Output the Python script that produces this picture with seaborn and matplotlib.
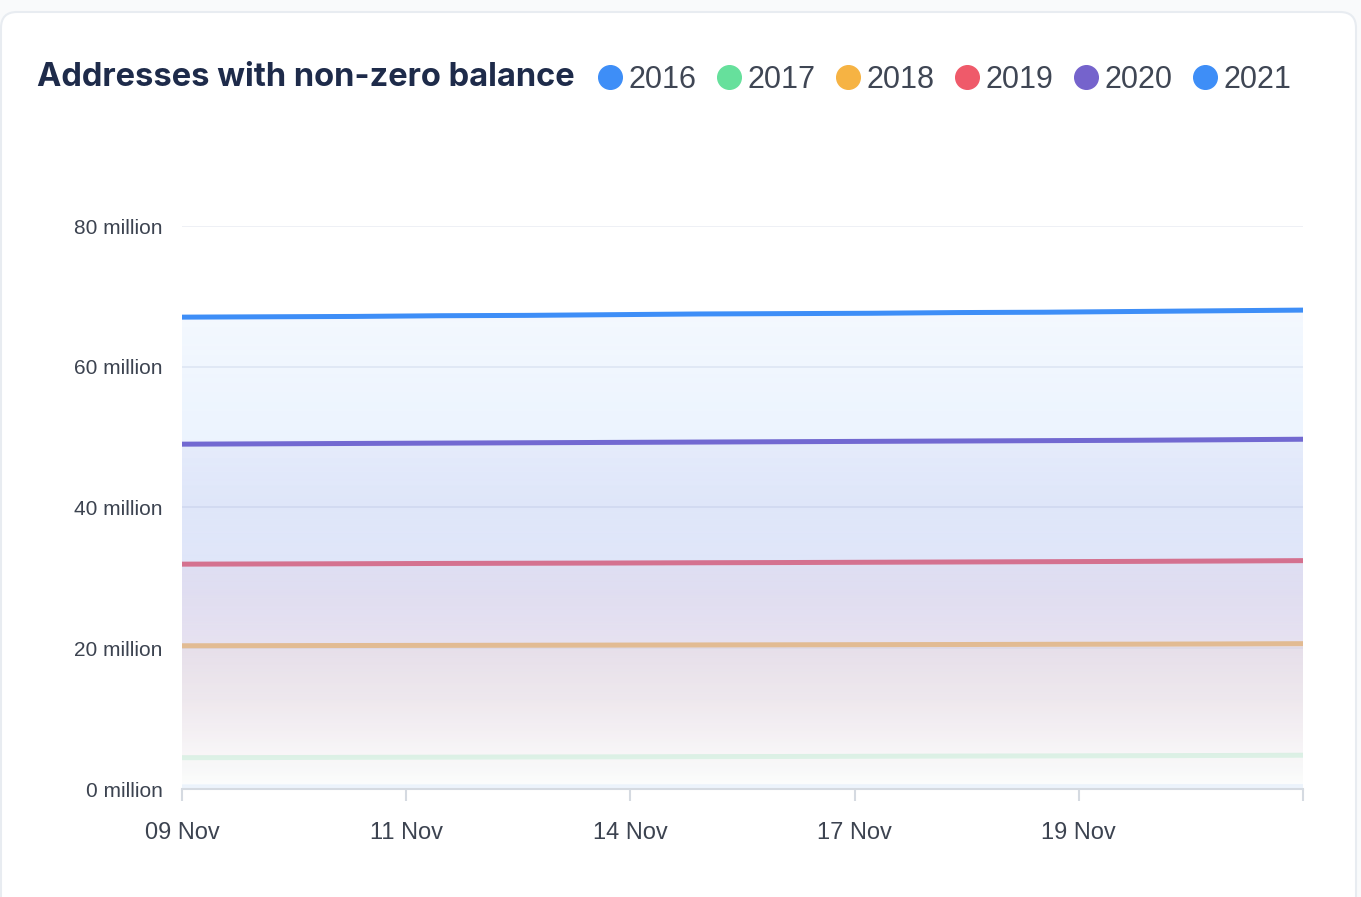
import matplotlib
matplotlib.use("Agg")
import matplotlib.pyplot as plt
from matplotlib.patches import FancyBboxPatch
from matplotlib.lines import Line2D
from matplotlib.colors import to_rgb
import seaborn as sns
import pandas as pd
import numpy as np

# data (million addresses), daily values 09 Nov .. 22 Nov
days = list(range(14))
years = ["2016", "2017", "2018", "2019", "2020", "2021"]
colors = ["#3E8EF7", "#66E09C", "#F6B343", "#EF5A6A", "#7563CC", "#3E8EF7"]

v2016 = [0.30, 0.30, 0.30, 0.31, 0.31, 0.31, 0.32, 0.32, 0.32, 0.33, 0.33, 0.33, 0.34, 0.34]
v2017 = [4.45, 4.47, 4.50, 4.52, 4.55, 4.57, 4.60, 4.62, 4.65, 4.68, 4.70, 4.73, 4.76, 4.80]
v2018 = [20.35, 20.37, 20.39, 20.41, 20.43, 20.45, 20.47, 20.49, 20.51, 20.53, 20.56, 20.58, 20.61, 20.65]
v2019 = [31.95, 31.98, 32.01, 32.05, 32.08, 32.11, 32.15, 32.18, 32.22, 32.26, 32.30, 32.34, 32.39, 32.45]
v2020 = [49.00, 49.05, 49.10, 49.15, 49.20, 49.25, 49.30, 49.35, 49.40, 49.45, 49.50, 49.55, 49.62, 49.70]
v2021 = [67.05, 67.10, 67.15, 67.25, 67.30, 67.40, 67.50, 67.55, 67.60, 67.70, 67.75, 67.85, 67.95, 68.05]

tick_labels = ["09 Nov", "11 Nov", "14 Nov", "17 Nov", "19 Nov", ""]
y_ticks = [0, 20, 40, 60, 80]

series = [v2016, v2017, v2018, v2019, v2020, v2021]
df = pd.concat([pd.DataFrame({"day": days, "value": v, "year": yr}) for yr, v in zip(years, series)])

sns.set_theme(style="white")
plt.rcParams["font.family"] = ["Liberation Sans", "DejaVu Sans"]

fig = plt.figure(figsize=(13.61, 8.97), dpi=100)
fig.patch.set_facecolor("#F9FAFB")

# white card behind everything
card = FancyBboxPatch((0.01, -0.5), 13.55, 9.35, boxstyle="round,pad=0,rounding_size=0.16",
                      transform=fig.dpi_scale_trans, facecolor="white", edgecolor="#E8ECF1",
                      lw=1.5, zorder=-10)
fig.patches.append(card)

ax = fig.add_axes([182 / 1361, 1 - 789 / 897, 1121 / 1361, (789 - 226) / 897])
ax.set_zorder(5)
ax.set_facecolor("none")

# area gradient: colour tint near the line, fading to a whitish veil at the baseline
t = np.linspace(0, 1, 256)
tint = np.interp(t, [0, 0.2, 0.4, 0.6, 0.8, 1], [0.06, 0.09, 0.11, 0.09, 0.05, 0.0])
veil = np.interp(t, [0, 0.2, 0.4, 0.6, 0.8, 1], [0.0, 0.01, 0.03, 0.13, 0.27, 0.40])
a = tint + veil

for i, (yr, c) in enumerate(zip(years, colors)):
    sub = df[df["year"] == yr]
    ymax = sub["value"].max()
    grad = np.zeros((256, 1, 4))
    rgb = np.array(to_rgb(c))
    grad[:, 0, :3] = (tint[:, None] * rgb + veil[:, None] * 1.0) / a[:, None]
    grad[:, 0, 3] = a
    poly = ax.fill_between(sub["day"], sub["value"], 0, facecolor="none", edgecolor="none")
    im = ax.imshow(grad, extent=[days[0], days[-1], 0, ymax], aspect="auto",
                   origin="upper", zorder=2 + 2 * i, interpolation="bilinear")
    im.set_clip_path(poly.get_paths()[0], transform=ax.transData)
    sns.lineplot(data=sub, x="day", y="value", color=c, lw=3.6, zorder=3 + 2 * i,
                 ax=ax, legend=False)

ax.set_xlim(days[0], days[-1])
ax.set_ylim(0, 80)
ax.set_xticks(np.linspace(days[0], days[-1], len(tick_labels)))
ax.set_xticklabels(tick_labels)
ax.set_yticks(y_ticks)
ax.set_yticklabels([f"{v} million" for v in y_ticks])
ax.set_xlabel("")
ax.set_ylabel("")
ax.grid(axis="y", color="#EBEEF3", lw=1.2, zorder=0)
ax.set_axisbelow(True)
for s in ["left", "top", "right"]:
    ax.spines[s].set_visible(False)
ax.spines["bottom"].set_color("#D5DAE1")
ax.spines["bottom"].set_linewidth(1.5)
ax.spines["bottom"].set_zorder(20)
ax.tick_params(axis="x", length=8.5, width=1.5, color="#D5DAE1", pad=15,
               labelsize=17, labelcolor="#3C4350", bottom=True)
ax.tick_params(axis="y", length=0, pad=14, labelsize=15, labelcolor="#3C4350")

fig.text(37 / 1361, 1 - 77 / 897, "Addresses with non-zero balance", family=["Inter", "DejaVu Sans"],
         fontsize=23.5, weight="bold", color="#1E2B4A", va="center", ha="left")

handles = [Line2D([], [], marker="o", ls="", markersize=17, color=c) for c in colors]
fig.legend(handles, years, loc="center left", bbox_to_anchor=(598 / 1361, 1 - 80 / 897),
           ncol=6, frameon=False, handlelength=0.8, handletextpad=0.2, columnspacing=0.67,
           fontsize=22, labelcolor="#3F4654", borderaxespad=0, borderpad=0)

plt.savefig("out.png", dpi=100, facecolor=fig.get_facecolor())
